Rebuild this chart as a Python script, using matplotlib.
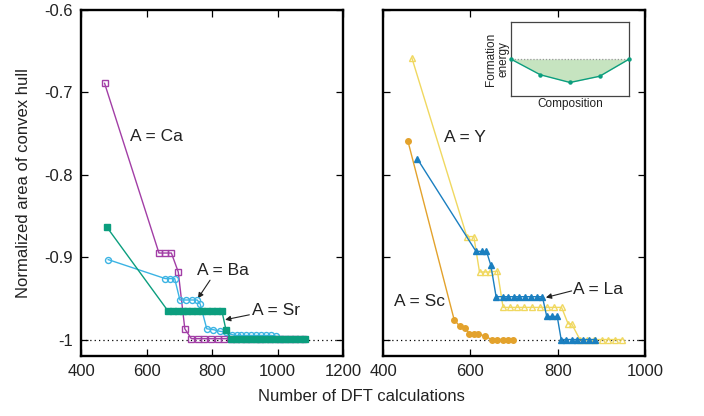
import matplotlib
matplotlib.use("Agg")
import matplotlib.pyplot as plt

plt.rcParams['font.family'] = ['Liberation Sans', 'DejaVu Sans']
plt.rcParams['axes.unicode_minus'] = False

# ---------------- data ----------------
ca_x = [472, 638, 657, 676, 697, 717, 737, 757, 777, 797, 817, 837, 857, 877, 897,
        917, 937, 957, 977, 997, 1017, 1037, 1057, 1077]
ca_y = [-0.689, -0.895, -0.895, -0.895, -0.918, -0.987] + [-0.999] * 18

ba_x = [483, 657, 672, 686, 702, 720, 738, 755, 764, 784, 804, 824, 843, 860, 875,
        890, 905, 920, 935, 950, 965, 980, 995, 1010, 1025]
ba_y = [-0.903, -0.926, -0.926, -0.926, -0.952, -0.952, -0.952, -0.952, -0.957,
        -0.987, -0.988, -0.990, -0.991, -0.994, -0.995, -0.995, -0.995, -0.995,
        -0.995, -0.995, -0.995, -0.995, -0.996, -0.999, -0.999]

sr_x = [478, 665, 680, 695, 710, 725, 740, 755, 770, 785, 800, 815, 830, 843,
        858, 873, 888, 903, 918, 933, 948, 963, 978, 993, 1008, 1023, 1038, 1053,
        1068, 1083]
sr_y = [-0.863] + [-0.965] * 12 + [-0.989] + [-0.999] * 16

y_x = [466, 592, 608, 621, 634, 645, 662, 675, 691, 707, 722, 741, 759, 775, 791,
       809, 824, 832, 851, 868, 883, 901, 916, 931, 947]
y_y = [-0.658, -0.875, -0.875, -0.918, -0.918, -0.918, -0.917] + [-0.961] * 9 + \
      [-0.981, -0.981] + [-1.0] * 7

la_x = [479, 613, 626, 637, 647, 659, 674, 687, 700, 712, 725, 738, 752, 765, 775,
        786, 799, 808, 819, 832, 845, 858, 872, 885]
la_y = [-0.781, -0.893, -0.893, -0.893, -0.910] + [-0.948] * 9 + [-0.972] * 3 + \
       [-1.0] * 7

sc_x = [457, 563, 576, 588, 598, 608, 618, 634, 649, 661, 674, 686, 698]
sc_y = [-0.759, -0.976, -0.984, -0.986, -0.993, -0.993, -0.993, -0.996,
        -1.0, -1.0, -1.0, -1.0, -1.0]

inset_x = [0.0, 0.25, 0.5, 0.75, 1.0]
inset_y = [0.0, -0.43, -0.64, -0.47, 0.0]

yticks = [-1.0, -0.9, -0.8, -0.7, -0.6]
ytick_labels = ['-1', '-0.9', '-0.8', '-0.7', '-0.6']
left_xticks = [400, 600, 800, 1000, 1200]
right_xticks = [400, 600, 800, 1000]

# ---------------- colors ----------------
c_ca = '#a23ea6'
c_ba = '#3cb4e4'
c_sr = '#0b9e7e'
c_y = '#f0d860'
c_la = '#1a7fc0'
c_sc = '#e3a22c'
txt = '#222222'

fig = plt.figure(figsize=(7.04, 4.16), dpi=100)
axL = fig.add_axes([81/704, 60/416, 262/704, 346/416])
axR = fig.add_axes([383/704, 60/416, 262/704, 346/416])

def style(ax, xticks, xlim, show_ylabels):
    ax.set_xlim(*xlim)
    ax.set_ylim(-1.02, -0.6)
    ax.set_xticks(xticks)
    ax.set_xticklabels([str(t) for t in xticks])
    ax.set_yticks(yticks)
    if show_ylabels:
        ax.set_yticklabels(ytick_labels)
    else:
        ax.set_yticklabels([])
    ax.tick_params(direction='in', length=5, width=0.9, top=True, right=True,
                   labelsize=12, colors='black', labelcolor=txt, pad=6)
    for s in ax.spines.values():
        s.set_linewidth(1.7)
        s.set_color('black')
    ax.axhline(-1.0, color='black', lw=0.9, ls=(0, (1, 2.5)), zorder=1)

style(axL, left_xticks, (400, 1200), True)
style(axR, right_xticks, (400, 1000), False)

# left panel
axL.plot(ca_x, ca_y, color=c_ca, lw=1.0, marker='s', ms=4.3, mfc='none', mec=c_ca, mew=1.0, zorder=3)
axL.plot(ba_x, ba_y, color=c_ba, lw=1.0, marker='o', ms=4.3, mfc='none', mec=c_ba, mew=1.0, zorder=4)
axL.plot(sr_x, sr_y, color=c_sr, lw=1.0, marker='s', ms=4.3, mfc=c_sr, mec=c_sr, zorder=5)

# right panel
axR.plot(y_x, y_y, color=c_y, lw=1.0, marker='^', ms=5, mfc='none', mec=c_y, mew=1.0, zorder=3)
axR.plot(la_x, la_y, color=c_la, lw=1.0, marker='^', ms=4, mfc=c_la, mec=c_la, zorder=4)
axR.plot(sc_x, sc_y, color=c_sc, lw=1.0, marker='o', ms=4, mfc=c_sc, mec=c_sc, zorder=5)

fs = 12.5
arrow = dict(arrowstyle='-|>', color='#222222', lw=0.8, mutation_scale=8,
             shrinkA=0, shrinkB=0)
axL.text(550, -0.754, 'A = Ca', fontsize=fs, color=txt, va='center', ha='left')
axL.text(754, -0.916, 'A = Ba', fontsize=fs, color=txt, va='center', ha='left')
axL.annotate('', xy=(757, -0.950), xytext=(794, -0.928), arrowprops=arrow)
axL.text(921, -0.965, 'A = Sr', fontsize=fs, color=txt, va='center', ha='left')
axL.annotate('', xy=(840, -0.976), xytext=(914, -0.970), arrowprops=arrow)
axR.text(540, -0.755, 'A = Y', fontsize=fs, color=txt, va='center', ha='left')
axR.text(425, -0.954, 'A = Sc', fontsize=fs, color=txt, va='center', ha='left')
axR.text(836, -0.939, 'A = La', fontsize=fs, color=txt, va='center', ha='left')
axR.annotate('', xy=(773, -0.949), xytext=(832, -0.941), arrowprops=arrow)

fig.text(0.513, 0.046, 'Number of DFT calculations', fontsize=12, color=txt,
         ha='center', va='center')
fig.text(0.033, 0.56, 'Normalized area of convex hull', fontsize=12, color=txt,
         ha='center', va='center', rotation=90)

# inset
axI = fig.add_axes([510.7/704, (416-95.7)/416, 118.6/704, 73.4/416])
axI.set_xlim(0, 1)
axI.set_ylim(-1, 1)
axI.set_xticks([])
axI.set_yticks([])
for s in axI.spines.values():
    s.set_linewidth(0.9)
    s.set_color('#444444')
axI.fill_between(inset_x, inset_y, 0, color='#c6e4c0', lw=0)
axI.plot([0, 1], [0, 0], color='#999999', lw=0.9, ls=(0, (1, 1.5)))
axI.plot(inset_x, inset_y, color=c_sr, lw=1.0, marker='o', ms=2.2, clip_on=False, zorder=3)
axI.set_xlabel('Composition', fontsize=8.5, color=txt, labelpad=2)
axI.set_ylabel('Formation\nenergy', fontsize=8.5, color=txt, labelpad=1, linespacing=1.0)

fig.savefig('out.png', dpi=100)
